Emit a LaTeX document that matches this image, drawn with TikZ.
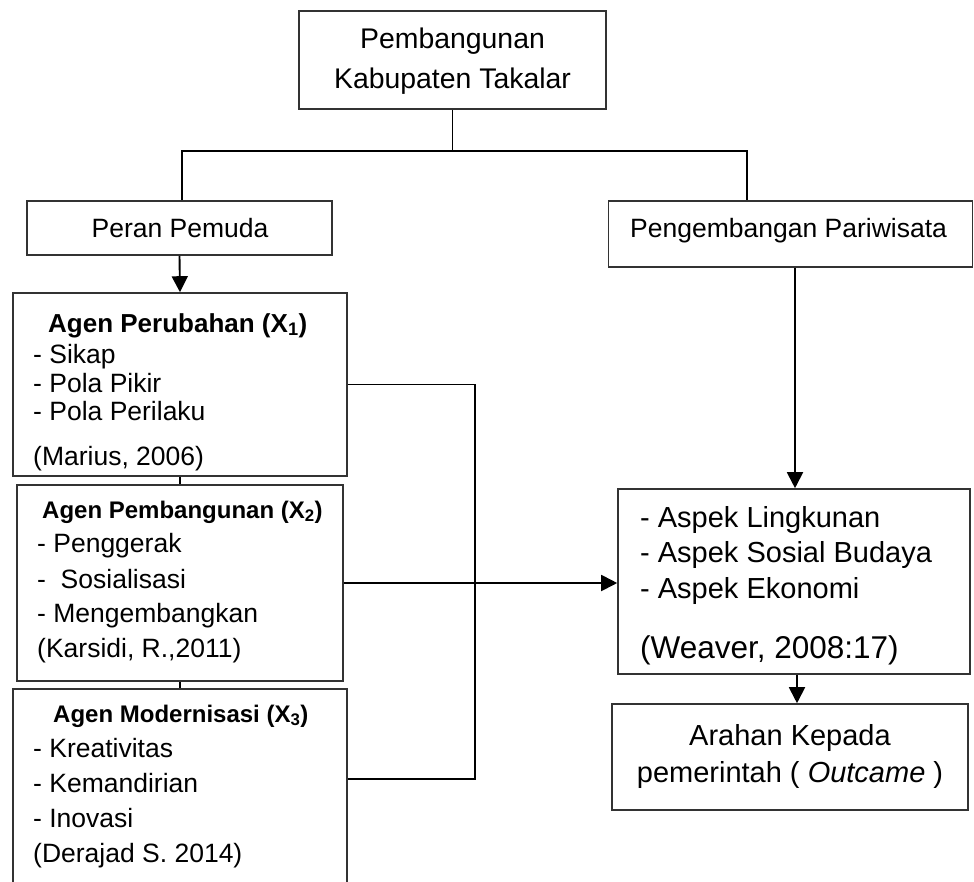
\documentclass[tikz,border=0pt]{standalone}
\usepackage{fontspec}
\setmainfont{Liberation Sans}
\usetikzlibrary{arrows.meta}
\tikzset{
  box/.style={draw=black!80, line width=1.6pt, inner sep=0pt, rectangle},
  conn/.style={draw=black, line width=1.9pt},
  arr/.style={conn, -{Triangle[length=16pt,width=16pt]}},
  tl/.style={inner sep=0pt, anchor=base west, font=\fontsize{26.5}{30}\selectfont},
  tc/.style={inner sep=0pt, anchor=base, font=\fontsize{26.5}{30}\selectfont},
  ttl/.style={inner sep=0pt, anchor=base west, font=\bfseries\fontsize{24}{28}\selectfont},
}
\begin{document}
\begin{tikzpicture}[x=1pt,y=-1pt]
\useasboundingbox (0,0) rectangle (974,881);
\clip (0,0) rectangle (974,881);
\fill[white] (0,0) rectangle (974,881);

% boxes
\node[box, minimum width=307pt, minimum height=98pt] (top) at (452.5,60) {};
\node[box, minimum width=305pt, minimum height=54pt] (peran) at (179.5,228) {};
\node[box, minimum width=364pt, minimum height=66pt] (peng) at (790.5,234) {};
\node[box, minimum width=334pt, minimum height=183pt] (ag1) at (180,384.5) {};
\node[box, minimum width=326pt, minimum height=196pt] (ag2) at (180,583) {};
\node[box, minimum width=334pt, minimum height=211pt] (ag3) at (180,794.5) {};
\node[box, minimum width=352pt, minimum height=185pt] (aspek) at (794,581.5) {};
\node[box, minimum width=356pt, minimum height=106pt] (arahan) at (790,757) {};

% texts
\node[tc, font=\fontsize{28.4}{32}\selectfont] (t1) at (452.5,48) {Pembangunan};
\node[tc, font=\fontsize{28.4}{32}\selectfont] (t2) at (452.5,88) {Kabupaten Takalar};
\node[tc] (tperan) at (180,237) {Peran Pemuda};
\node[tl] (tpeng) at (630,237) {Pengembangan Pariwisata};

\node[ttl, font=\bfseries\fontsize{26}{30}\selectfont] (a1t) at (48,332) {Agen Perubahan (X\textsubscript{1})};
\node[tl] (a1a) at (33,363) {- Sikap};
\node[tl] (a1b) at (33,392) {- Pola Pikir};
\node[tl] (a1c) at (33,420) {- Pola Perilaku};
\node[tl] (a1d) at (33,465) {(Marius, 2006)};

\node[ttl] (a2t) at (42,518) {Agen Pembangunan (X\textsubscript{2})};
\node[tl] (a2a) at (37,552) {- Penggerak};
\node[tl] (a2b) at (37,588) {-\ \ Sosialisasi};
\node[tl] (a2c) at (37,622) {- Mengembangkan};
\node[tl] (a2d) at (37,657) {(Karsidi, R.,2011)};

\node[ttl] (a3t) at (53,722) {Agen Modernisasi (X\textsubscript{3})};
\node[tl] (a3a) at (33,757) {- Kreativitas};
\node[tl] (a3b) at (33,792) {- Kemandirian};
\node[tl] (a3c) at (33,827) {- Inovasi};
\node[tl] (a3d) at (33,862) {(Derajad S. 2014)};

\node[tl, font=\fontsize{29}{33}\selectfont] (s1) at (640,527) {- Aspek Lingkunan};
\node[tl, font=\fontsize{29}{33}\selectfont] (s2) at (640,562) {- Aspek Sosial Budaya};
\node[tl, font=\fontsize{29}{33}\selectfont] (s3) at (640,598) {- Aspek Ekonomi};
\node[tl, font=\fontsize{31.5}{35}\selectfont] (s4) at (640,658) {(Weaver, 2008:17)};

\node[tc, font=\fontsize{29}{33}\selectfont] (r1) at (790,745) {Arahan Kepada};
\node[tc, font=\fontsize{29}{33}\selectfont] (r2) at (790,782) {pemerintah ( \textit{Outcame} )};

% connectors
\coordinate (hl) at (182,151);
\coordinate (hr) at (747,151);
\coordinate (bx) at (475,779);
\coordinate (ax1) at (795,0);
\coordinate (ax2) at (797,0);
\draw[conn] (top.south) -- (top.south |- hl);
\draw[conn] (hl |- peran.north) -- (hl) -- (hr) -- (hr |- peng.north);
\draw[arr] (peran.south) -- (ag1.north);
\draw[conn] (ag1.south) -- (ag2.north);
\draw[conn] (ag2.south) -- (ag3.north);
\draw[conn] (ag1.east) -| (bx) -- (bx -| ag3.east);
\draw[arr] (ag2.east) -- (ag2.east -| aspek.west);
\draw[arr] (peng.south -| ax1) -- (aspek.north -| ax1);
\draw[arr] (aspek.south -| ax2) -- (arahan.north -| ax2);
\end{tikzpicture}
\end{document}
